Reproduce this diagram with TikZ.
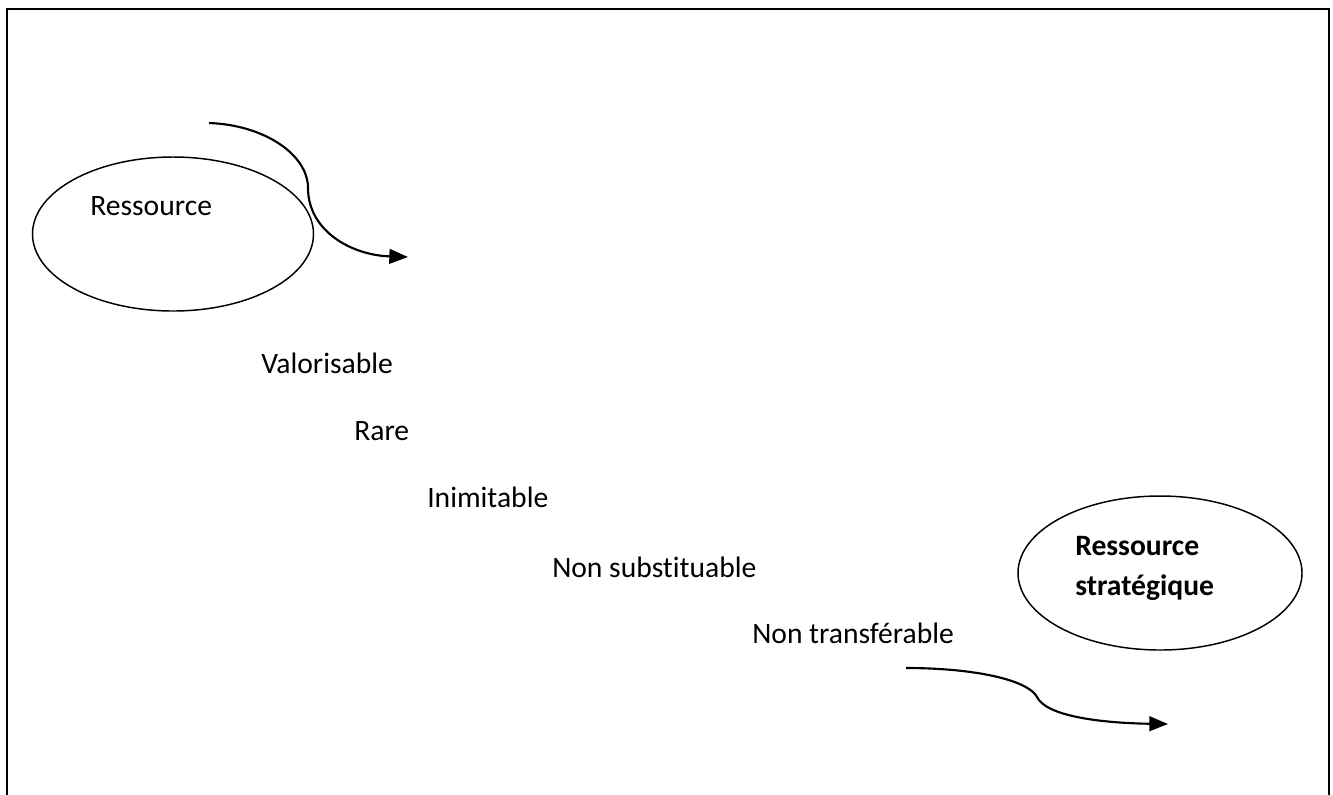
\documentclass[tikz,border=0pt]{standalone}
\usepackage{fontspec}
\setmainfont[RawFeature=-liga]{Carlito}
\usetikzlibrary{shapes.geometric,arrows.meta}
\begin{document}
\begin{tikzpicture}[x=0.75pt,y=-0.75pt,
  every node/.style={font=\fontsize{22.2}{26}\selectfont},
  lbl/.style={anchor=base west,inner sep=0pt},
  oval/.style={draw,ellipse,line width=1.1pt,inner sep=0pt},
  flow/.style={line width=1.6pt,-{Triangle[length=14pt,width=11pt]}},
  frame/.style={line width=1.6pt}]
  \useasboundingbox (0,0) rectangle (1333,794);
  % open frame (no bottom edge)
  \draw[frame] (7,800) -- (7,9) -- (1329,9) -- (1329,800);

  % starting resource
  \node[oval,minimum width=210.75pt,minimum height=115.5pt] (res) at (173,234) {};
  \node[lbl] (restxt) at (90,215) {Ressource};

  % criteria
  \node[lbl] (val) at (261,373) {Valorisable};
  \node[lbl] (rare) at (354,440) {Rare};
  \node[lbl] (inim) at (427,507) {Inimitable};
  \node[lbl] (subst) at (552,577) {Non substituable};
  \node[lbl] (transf) at (752,643) {Non transférable};

  % strategic resource
  \node[oval,minimum width=213pt,minimum height=115.5pt] (strat) at (1160,573) {};
  \node[lbl,font=\fontsize{22.2}{26}\selectfont\bfseries] (strattxt1) at (1075,555) {Ressource};
  \node[lbl,font=\fontsize{22.2}{26}\selectfont\bfseries] (strattxt2) at (1075,595) {stratégique};

  % curved arrows
  \coordinate (a1s) at (209,123);
  \coordinate (a1m) at (308,188);
  \coordinate (a1e) at (408,257);
  \draw[flow] (a1s) .. controls (265,125) and (308,155) .. (a1m)
              .. controls (308,230) and (350,255) .. (a1e);

  \coordinate (a2s) at (906,668);
  \coordinate (a2m) at (1037,697);
  \coordinate (a2e) at (1168,724);
  \draw[flow] (a2s) .. controls (975,668) and (1028,680) .. (a2m)
              .. controls (1046,716) and (1100,723) .. (a2e);
\end{tikzpicture}
\end{document}
